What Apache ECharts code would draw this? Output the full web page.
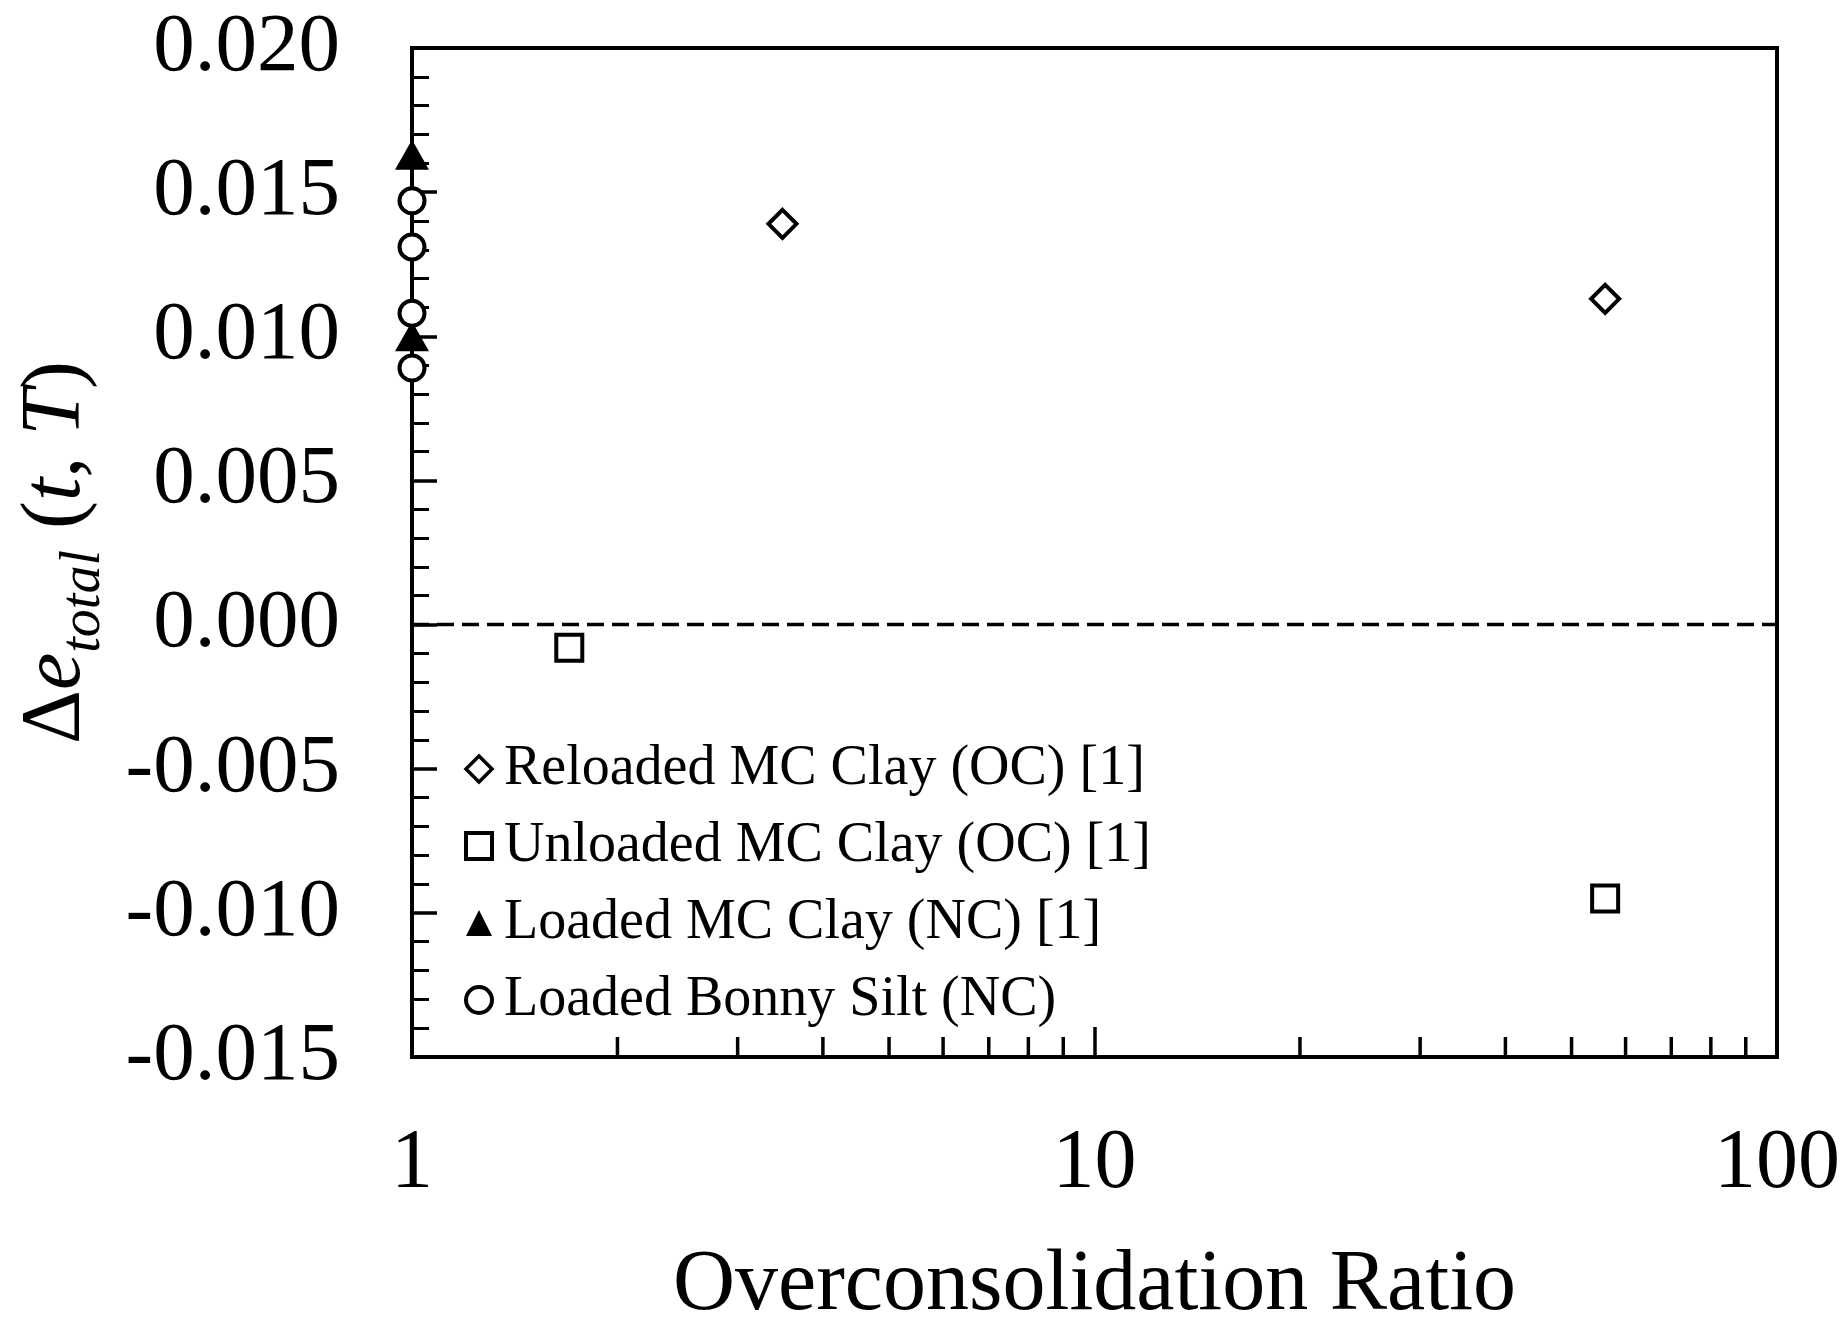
<!DOCTYPE html>
<html>
<head>
<meta charset="utf-8">
<title>Δe_total vs Overconsolidation Ratio</title>
<script src="https://cdn.jsdelivr.net/npm/echarts@6/dist/echarts.min.js"></script>
<style>
  html, body { margin: 0; padding: 0; background: #ffffff; }
  #chart { width: 1848px; height: 1317px; }
</style>
</head>
<body>
<div id="chart"></div>
<script>
// Series values: overconsolidation ratio (x) and change in total void ratio (y)
var reloadedOCR = [3.49, 56.0];
var reloadedDe  = [0.0139, 0.0113];

var unloadedOCR = [1.70, 56.0];
var unloadedDe  = [-0.0008, -0.0095];

var loadedMCOCR = [1, 1];
var loadedMCDe  = [0.0163, 0.0100];

var bonnyOCR = [1, 1, 1, 1];
var bonnyDe  = [0.0147, 0.0131, 0.0108, 0.0089];

var seriesNames = [
  'Reloaded MC Clay (OC) [1]',
  'Unloaded MC Clay (OC) [1]',
  'Loaded MC Clay (NC) [1]',
  'Loaded Bonny Silt (NC)'
];

// Axis ranges and tick values
var yRange = [-0.015, 0.020];
var yStep = 0.005;
var xRange = [1, 100];
var xMinorTicks = [2, 3, 4, 5, 6, 7, 8, 9, 20, 30, 40, 50, 60, 70, 80, 90];
var zeroLineY = 0;

var FONT = "'Liberation Serif', 'Times New Roman', serif";

function pairs(xs, ys) {
  return xs.map(function (x, i) { return [x, ys[i]]; });
}

var chart = echarts.init(document.getElementById('chart'), null, { renderer: 'canvas' });

var hollow = { color: '#ffffff', borderColor: '#000000', borderWidth: 4, opacity: 1 };
var noHover = { disabled: true };

var option = {
  backgroundColor: '#ffffff',
  animation: false,
  grid: {
    left: 412, top: 48, right: 71, bottom: 260,
    containLabel: false,
    outerBoundsMode: 'none',
    show: true, borderColor: '#000000', borderWidth: 4, backgroundColor: 'transparent'
  },
  legend: {
    orient: 'vertical',
    left: 459, top: 734,
    itemWidth: 26, itemHeight: 26,
    itemGap: 17,
    inactiveColor: '#000',
    textStyle: { fontFamily: FONT, fontSize: 56, color: '#000000', lineHeight: 60, padding: [0, 0, 0, 7] },
    data: [
      { name: seriesNames[0], icon: 'diamond', itemStyle: { color: '#fff', borderColor: '#000', borderWidth: 3.5, opacity: 1 } },
      { name: seriesNames[1], icon: 'rect', itemStyle: { color: '#fff', borderColor: '#000', borderWidth: 4, opacity: 1 } },
      { name: seriesNames[2], icon: 'triangle', itemStyle: { color: '#000', borderColor: '#000', borderWidth: 0, opacity: 1 } },
      { name: seriesNames[3], icon: 'circle', itemStyle: { color: '#fff', borderColor: '#000', borderWidth: 4, opacity: 1 } }
    ]
  },
  xAxis: {
    type: 'log',
    logBase: 10,
    min: xRange[0],
    max: xRange[1],
    name: 'Overconsolidation Ratio',
    nameLocation: 'middle',
    nameGap: 186,
    nameTextStyle: { fontFamily: FONT, fontSize: 86, color: '#000000' },
    axisLine: { show: true, onZero: false, lineStyle: { color: '#000000', width: 4 } },
    axisTick: { show: true, inside: true, length: 30, lineStyle: { color: '#000000', width: 3.5 } },
    minorTick: { show: false },
    splitLine: { show: false },
    axisLabel: { fontFamily: FONT, fontSize: 84, color: '#000000', margin: 66 }
  },
  yAxis: {
    type: 'value',
    min: yRange[0],
    max: yRange[1],
    interval: yStep,
    name: '{d|Δ}{e|e}{s|total}{n| (}{i|t}{n|, }{i|T}{n|)}',
    nameLocation: 'middle',
    nameRotate: 90,
    nameGap: 300,
    nameTextStyle: {
      fontFamily: FONT, color: '#000000',
      rich: {
        d: { fontFamily: FONT, fontSize: 84, lineHeight: 110, color: '#000' },
        e: { fontFamily: FONT, fontSize: 84, fontStyle: 'italic', lineHeight: 110, color: '#000' },
        s: { fontFamily: FONT, fontSize: 56, fontStyle: 'italic', lineHeight: 58, verticalAlign: 'bottom', color: '#000' },
        n: { fontFamily: FONT, fontSize: 84, lineHeight: 110, color: '#000' },
        i: { fontFamily: FONT, fontSize: 84, fontStyle: 'italic', lineHeight: 110, color: '#000' }
      }
    },
    axisLine: { show: true, lineStyle: { color: '#000000', width: 4 } },
    axisTick: { show: true, inside: true, length: 25, lineStyle: { color: '#000000', width: 3.5 } },
    minorTick: { show: true, splitNumber: 5, length: 17, lineStyle: { color: '#000000', width: 3 } },
    splitLine: { show: false },
    minorSplitLine: { show: false },
    axisLabel: {
      fontFamily: FONT, fontSize: 83, color: '#000000', margin: 72,
      formatter: function (v) { return v.toFixed(3); }
    }
  },
  series: [
    {
      // dashed reference line at zero change
      name: 'zero',
      type: 'line',
      silent: true,
      symbol: 'none',
      z: 1,
      lineStyle: { color: '#000000', width: 3.5, type: [17, 8] },
      emphasis: noHover,
      data: [[xRange[0], zeroLineY], [xRange[1], zeroLineY]]
    },
    {
      name: seriesNames[0],
      type: 'scatter',
      clip: false,
      symbol: 'diamond',
      symbolSize: 28,
      itemStyle: hollow,
      emphasis: noHover,
      data: pairs(reloadedOCR, reloadedDe)
    },
    {
      name: seriesNames[1],
      type: 'scatter',
      clip: false,
      symbol: 'rect',
      symbolSize: 26,
      itemStyle: hollow,
      emphasis: noHover,
      data: pairs(unloadedOCR, unloadedDe)
    },
    {
      name: seriesNames[2],
      type: 'scatter',
      clip: false,
      symbol: 'triangle',
      symbolSize: [34, 30],
      itemStyle: { color: '#000000', opacity: 1 },
      emphasis: noHover,
      data: pairs(loadedMCOCR, loadedMCDe)
    },
    {
      name: seriesNames[3],
      type: 'scatter',
      clip: false,
      symbol: 'circle',
      symbolSize: 25,
      itemStyle: hollow,
      emphasis: noHover,
      data: pairs(bonnyOCR, bonnyDe)
    },
    {
      // minor ticks of the logarithmic x axis (2–9 of each decade)
      name: 'xMinorTicks',
      type: 'custom',
      silent: true,
      clip: false,
      z: 3,
      data: xMinorTicks.map(function (v) { return [v, yRange[0]]; }),
      renderItem: function (params, api) {
        var p = api.coord([api.value(0), api.value(1)]);
        return {
          type: 'line',
          shape: { x1: p[0], y1: p[1], x2: p[0], y2: p[1] - 20 },
          style: { stroke: '#000000', lineWidth: 3.5 }
        };
      }
    }
  ]
};

chart.setOption(option);
</script>
</body>
</html>
